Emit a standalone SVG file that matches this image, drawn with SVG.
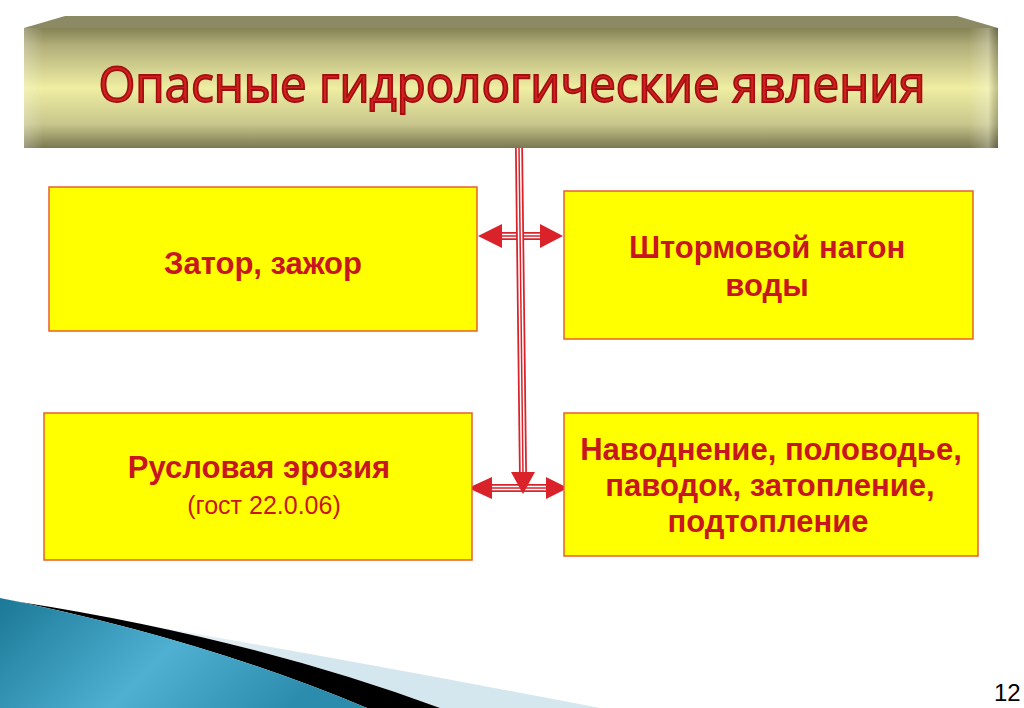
<svg xmlns="http://www.w3.org/2000/svg" width="1024" height="708" viewBox="0 0 1024 708">
<defs>
<linearGradient id="front" x1="0" y1="0" x2="0" y2="1">
<stop offset="0" stop-color="#858254"/>
<stop offset="0.15" stop-color="#b2af7a"/>
<stop offset="0.5" stop-color="#efeea2"/>
<stop offset="0.8" stop-color="#c8c68c"/>
<stop offset="1" stop-color="#7a7850"/>
</linearGradient>
<linearGradient id="side" x1="0" y1="0" x2="1" y2="0">
<stop offset="0" stop-color="#ffffff" stop-opacity="0.25"/>
<stop offset="0.02" stop-color="#ffffff" stop-opacity="0"/>
<stop offset="0.97" stop-color="#ffffff" stop-opacity="0"/>
<stop offset="0.99" stop-color="#ffffff" stop-opacity="0.25"/>
<stop offset="1" stop-color="#000000" stop-opacity="0.2"/>
</linearGradient>
<linearGradient id="blue" x1="0" y1="0" x2="1" y2="0.3">
<stop offset="0" stop-color="#1b7896"/>
<stop offset="0.55" stop-color="#4fb0d2"/>
<stop offset="1" stop-color="#2b8cae"/>
</linearGradient>
<linearGradient id="light" x1="0" y1="0" x2="1" y2="0">
<stop offset="0" stop-color="#ffffff"/>
<stop offset="0.5" stop-color="#d4e6ee"/>
<stop offset="1" stop-color="#d4e6ee"/>
</linearGradient>
<style>
.box{fill:#FFFF00;stroke:#E8602C;stroke-width:1.5}
.t{font-family:"Liberation Sans",Arial,sans-serif;font-weight:bold;font-size:31px;fill:#C8161E;text-anchor:middle}
.s{font-family:"Liberation Sans",Arial,sans-serif;font-size:25px;fill:#C8161E;text-anchor:middle}
.l1{stroke:#D9222A;stroke-width:8;fill:none}
.l2{stroke:#ffffff;stroke-width:4.5;fill:none}
.l3{stroke:#D9222A;stroke-width:1.5;fill:none}
.head{fill:#D9222A}
</style>
</defs>
<rect width="1024" height="708" fill="#ffffff"/>
<g id="decor">
<path d="M60,610 Q350,660 600,708 L440,708 Q250,638 20,602 Z" fill="url(#light)"/>
<path d="M20,602 Q250,638 440,708 L367,708 Q200,638 0,598 Z" fill="#000000"/>
<path d="M0,598 Q200,638 367,708 L0,708 Z" fill="url(#blue)"/>
</g>
<g id="title">
<polygon points="65,16 957,16 998,28 24,28" fill="#8b8a64"/>
<rect x="24" y="28" width="974" height="120" fill="url(#front)"/>
<rect x="24" y="28" width="974" height="120" fill="url(#side)"/>
<text x="512" y="102" font-family="'Open Sans','DejaVu Sans',sans-serif" font-weight="normal" font-size="50" fill="#D42020" stroke="#A01010" stroke-width="1.8" text-anchor="middle" textLength="827" lengthAdjust="spacingAndGlyphs">Опасные гидрологические явления</text>
</g>
<g id="connectors">
<path class="l1" d="M502,236 H540"/><path class="l2" d="M502,236 H540"/><path class="l3" d="M502,236 H540"/>
<polygon class="head" points="478,236 502,224 502,248"/>
<polygon class="head" points="563,236 540,224 540,248"/>
<path class="l1" d="M492,488 H546"/><path class="l2" d="M492,488 H546"/><path class="l3" d="M492,488 H546"/>
<polygon class="head" points="468,488 492,477 492,499"/>
<polygon class="head" points="568,488 546,477 546,499"/>
<path class="l1" d="M519,148 L523,474"/><path class="l2" d="M519,148 L523,474"/><path class="l3" d="M519,148 L523,474"/>
<polygon class="head" points="511,472 535,472 523,494"/>
</g>
<g id="n1">
<rect class="box" x="49" y="187" width="428" height="144"/>
<text class="t" x="263" y="274">Затор, зажор</text>
</g>
<g id="n2">
<rect class="box" x="564" y="191" width="409" height="148"/>
<text class="t" x="767" y="258">Штормовой нагон</text>
<text class="t" x="767" y="296">воды</text>
</g>
<g id="n3">
<rect class="box" x="44" y="413" width="428" height="147"/>
<text class="t" x="259" y="478">Русловая эрозия</text>
<text class="s" x="264" y="514">(гост 22.0.06)</text>
</g>
<g id="n4">
<rect class="box" x="564" y="413" width="414" height="143"/>
<text class="t" x="771" y="460">Наводнение, половодье,</text>
<text class="t" x="770" y="496">паводок, затопление,</text>
<text class="t" x="768" y="532">подтопление</text>
</g>
<text x="994" y="701" font-family="'Liberation Sans',Arial,sans-serif" font-size="24" fill="#000000">12</text>
</svg>
